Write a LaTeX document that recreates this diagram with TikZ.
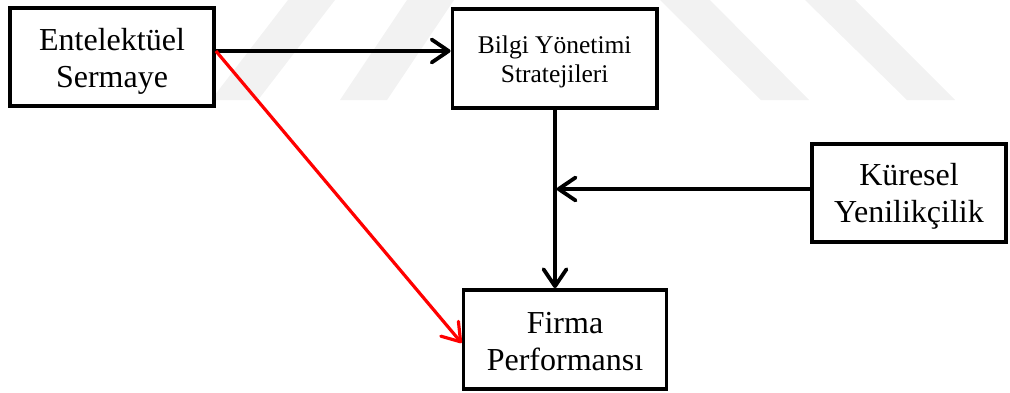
\documentclass[tikz,border=0pt]{standalone}
\usepackage{fontspec}
\setmainfont{Liberation Serif}
\usetikzlibrary{arrows.meta,calc}
\begin{document}
\begin{tikzpicture}[x=1pt,y=-1pt,
  box/.style={draw=black,line width=3.8pt,fill=white,inner sep=0pt,minimum height=98pt},
  txt/.style={align=center,inner sep=0pt,font=\fontsize{32}{37.5}\selectfont},
  smalltxt/.style={align=center,inner sep=0pt,font=\fontsize{25.5}{29.5}\selectfont},
  arr/.style={draw=black,line width=3.8pt,-{Straight Barb[length=17pt,width=23pt,line cap=round,line join=round]}},
  redarr/.style={arr,draw=red},
  mark band/.style={fill=black!5,draw=none}
]
\useasboundingbox (0,0) rectangle (1010,392);

% faint background bands
\fill[mark band] (288,0) -- (335,0) -- (258,100) -- (211,100) -- cycle;
\fill[mark band] (407,0) -- (454,0) -- (387,100) -- (340,100) -- cycle;
\fill[mark band] (660,0) -- (710,0) -- (809,100) -- (761,100) -- cycle;
\fill[mark band] (805,0) -- (855,0) -- (955,100) -- (907,100) -- cycle;

% boxes
\node[box,minimum width=204pt] (E) at (112,57) {};
\node[box,minimum width=204.5pt,minimum height=99pt] (B) at (554.7,58.5) {};
\node[box,minimum width=194pt] (K) at (909,193) {};
\node[box,minimum width=203pt,minimum height=99pt] (F) at (565,339.5) {};

% labels
\node[txt] (Et) at (112,61.3) {Entelektüel\\Sermaye};
\node[smalltxt] (Bt) at (554.7,62) {Bilgi Yönetimi\\Stratejileri};
\node[txt] (Kt) at (909,196.3) {Küresel\\Yenilikçilik};
\node[txt] (Ft) at (565,341.5) {Firma\\Performansı};

% connectors
\draw[arr] ([yshift=6pt]E.east) -- ([yshift=6pt]E.east -| B.west);
\draw[arr] ([xshift=0.3pt]B.south) -- ([xshift=0.3pt]B.south |- F.north);
\draw[arr] ([yshift=4pt]K.west) -- ([yshift=4pt,xshift=2pt]K.west -| B.south);
\draw[redarr,line width=3.2pt] ([yshift=6pt]E.east) -- ([yshift=-3.5pt]F.west);
\end{tikzpicture}
\end{document}
